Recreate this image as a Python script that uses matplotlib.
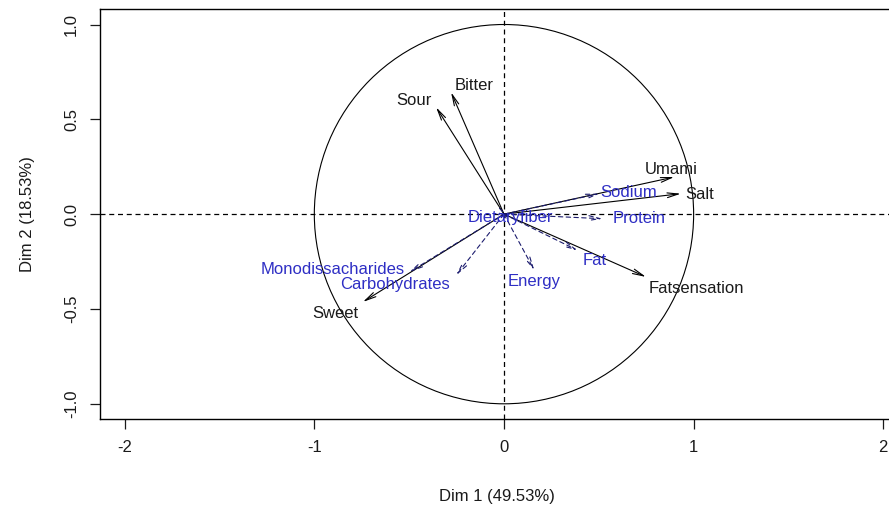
import matplotlib.pyplot as plt
import matplotlib.patches as mpatches
import numpy as np

plt.rcParams['font.family'] = ['Liberation Sans', 'DejaVu Sans']

# active variables (black, solid arrows)
active_names = ["Bitter", "Sour", "Umami", "Salt", "Fatsensation", "Sweet"]
active_dim1 = [-0.279, -0.358, 0.898, 0.933, 0.749, -0.744]
active_dim2 = [0.643, 0.564, 0.196, 0.108, -0.331, -0.463]

# supplementary quantitative variables (blue, dashed arrows)
sup_names = ["Sodium", "Protein", "Fat", "Energy", "Carbohydrates",
             "Monodissacharides", "Dietaryfiber"]
sup_dim1 = [0.503, 0.520, 0.388, 0.160, -0.252, -0.498, 0.030]
sup_dim2 = [0.108, -0.024, -0.191, -0.296, -0.322, -0.305, -0.020]

pct_dim1 = 49.53
pct_dim2 = 18.53

# label offsets from the arrow tip (data units)
active_offsets = [(0.123, 0.036), (-0.114, 0.036), (-0.016, 0.040),
                  (0.097, -0.004), (0.265, -0.060), (-0.144, -0.060)]
sup_offsets = [(0.153, 0.007), (0.193, 0.002), (0.089, -0.052),
               (0.0, -0.058), (-0.325, -0.048), (-0.406, 0.014),
               (0.004, 0.003)]

BLUE = '#2e2ec4'

fig = plt.figure(figsize=(8.89, 5.07), dpi=100)
ax = fig.add_axes([0.1125, 0.1736, 0.9095, 0.808])
ax.set_xlim(-2.13, 2.13)
ax.set_ylim(-1.08, 1.08)
ax.set_aspect('equal', adjustable='box', anchor='SW')

# correlation circle and dashed axes
circle = mpatches.Circle((0, 0), 1.0, fill=False, color='black', lw=0.8)
ax.add_patch(circle)
ax.axhline(0, color='black', lw=0.9, ls=(0, (4, 3)))
ax.axvline(0, color='black', lw=0.9, ls=(0, (4, 3)))


def draw_arrow(x, y, color, style):
    ax.annotate('', xy=(x, y), xytext=(0, 0),
                arrowprops=dict(arrowstyle='->,head_length=0.8,head_width=0.17',
                                color=color, lw=0.8, linestyle=style,
                                shrinkA=0, shrinkB=0))


for name, x, y, (dx, dy) in zip(active_names, active_dim1, active_dim2, active_offsets):
    draw_arrow(x, y, 'black', '-')
    ax.text(x + dx, y + dy, name, ha='center', va='center',
            fontsize=12, color='#1a1a1a')

for name, x, y, (dx, dy) in zip(sup_names, sup_dim1, sup_dim2, sup_offsets):
    draw_arrow(x, y, '#1c1c6e', (0, (4, 3)))
    ax.text(x + dx, y + dy, name, ha='center', va='center',
            fontsize=12, color=BLUE)

ax.set_xticks([-2, -1, 0, 1, 2])
ax.set_xticklabels(['-2', '-1', '0', '1', '2'])
ax.set_yticks([-1.0, -0.5, 0.0, 0.5, 1.0])
ax.set_yticklabels(['-1.0', '-0.5', '0.0', '0.5', '1.0'], rotation=90, va='center')
ax.tick_params(direction='out', length=7, width=0.9, labelsize=12,
               colors='#1a1a1a', pad=8)

for sp in ax.spines.values():
    sp.set_linewidth(1.0)

ax.set_xlabel('Dim 1 (%.2f%%)' % pct_dim1, fontsize=12, color='#1a1a1a')
ax.set_ylabel('Dim 2 (%.2f%%)' % pct_dim2, fontsize=12, color='#1a1a1a')
ax.xaxis.set_label_coords(0.4912, -0.172)
ax.yaxis.set_label_coords(-0.080, 0.5)

fig.savefig('out.png', dpi=100)
